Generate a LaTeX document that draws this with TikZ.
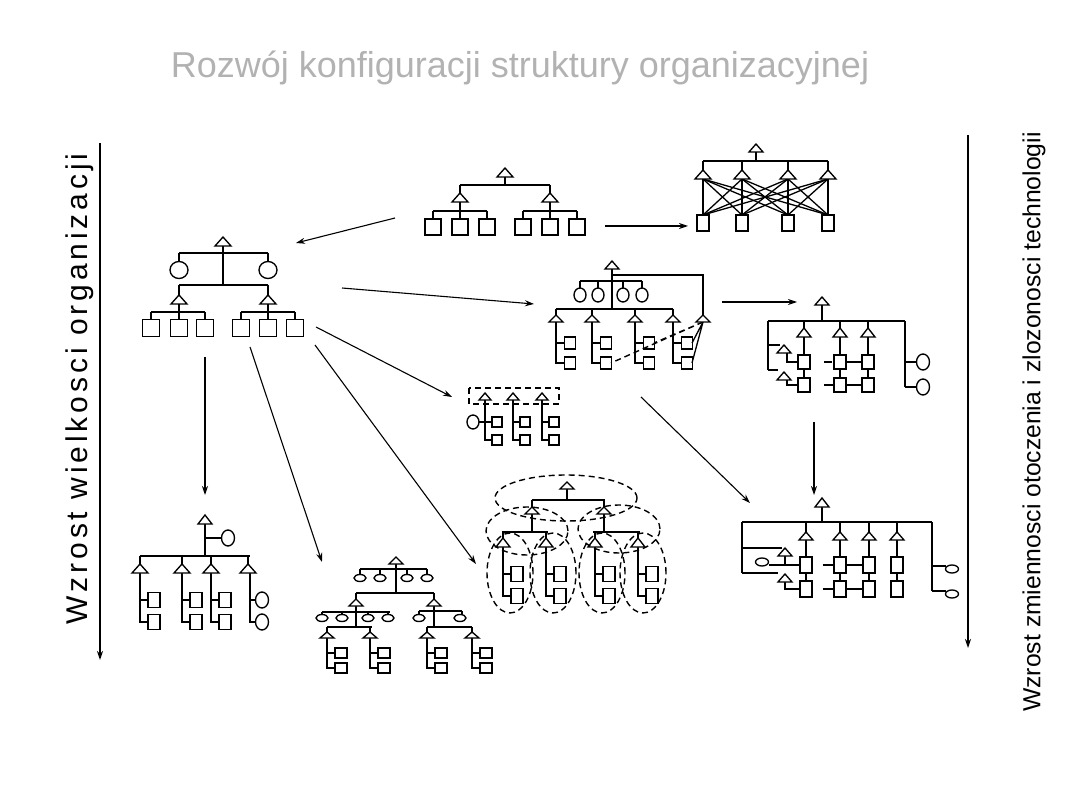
\documentclass[tikz,border=0pt]{standalone}
\usepackage{fontspec}
\setmainfont{Liberation Sans}
\usetikzlibrary{arrows.meta}
\definecolor{titlegray}{RGB}{178,178,178}
\tikzset{
  shp/.style={draw=black, line width=1.35pt, fill=white},
  thk/.style={draw=black, line width=2.3pt},
  thn/.style={draw=black, line width=1.3pt},
  dsh/.style={draw=black, line width=1.4pt, dash pattern=on 6pt off 4pt},
  flow/.style={draw=black, line width=1.1pt, -{Stealth[length=9pt,width=6pt]}},
  axis/.style={draw=black, line width=1.3pt, -{Stealth[length=9pt,width=6pt]}},
}
% triangle: apex x, apex y, half width, height
\newcommand\otri[4]{\draw[shp] (#1-#3,#2+#4) -- (#1,#2) -- (#1+#3,#2+#4) -- cycle;}
% box: centre x, centre y, width, height
\newcommand\obox[4]{\draw[shp] (#1-#3/2,#2-#4/2) rectangle (#1+#3/2,#2+#4/2);}
% oval: centre x, centre y, radii
\newcommand\oell[4]{\draw[shp] (#1,#2) ellipse [x radius=#3pt, y radius=#4pt];}

\begin{document}
\begin{tikzpicture}[x=1pt, y=-1pt]
\useasboundingbox (0,0) rectangle (1080,810);

\node[font=\fontsize{36}{40}\selectfont, text=titlegray] (title) at (520,68) {Rozwój konfiguracji struktury organizacyjnej};
\node[rotate=90, font=\fontsize{30}{32}\selectfont\addfontfeatures{LetterSpace=13}] (size) at (80,389) {Wzrost wielkosci organizacji};
\node[rotate=90, font=\fontsize{24.7}{28}\selectfont] (envi) at (1034,422) {Wzrost zmiennosci otoczenia i zlozonosci technologii};

% functional (top centre)
\draw[thk] (505,177) -- (505,185) (460,185) -- (550,185) (460,185) -- (460,193) (550,185) -- (550,193);
\draw[thk] (460,202) -- (460,211) (550,202) -- (550,211) (433,211) -- (487,211) (523,211) -- (577,211);
\foreach \x in {433,460,487,523,550,577} { \draw[thk] (\x,211) -- (\x,219); \obox{\x}{227}{16}{16} }
\otri{505}{168}{8}{9} \otri{460}{193}{8}{9} \otri{550}{193}{8}{9}

% matrix (top right)
\draw[thk] (756,152) -- (756,161) (703,161) -- (828,161);
\foreach \x in {703,742,788,828} { \draw[thk] (\x,161) -- (\x,170); }
\foreach \x in {703,742,788,828} { \foreach \y in {703,742,788,828} { \draw[thn] (\x,179) -- (\y,215); } }
\foreach \x in {703,742,788,828} { \draw[thk] (\x,179) -- (\x,215); \obox{\x}{223}{12}{16} \otri{\x}{170}{8}{9} }
\otri{756}{144}{7}{8}

% staff (left)
\draw[thn] (223,246) -- (223,285);
\draw[thk] (179,253) -- (268,253) (179,253) -- (179,262) (268,253) -- (268,262);
\draw[thk] (179,285) -- (268,285) (179,285) -- (179,295) (268,285) -- (268,295);
\draw[thk] (179,304) -- (179,312) (268,304) -- (268,312) (151,312) -- (205,312) (241,312) -- (295,312);
\foreach \x in {151,179,205,241,268,295} { \draw[thk] (\x,312) -- (\x,320); \obox{\x}{328}{17}{17} }
\oell{179}{270}{9}{8.5} \oell{268}{270}{9}{8.5}
\otri{223}{237}{8}{9} \otri{179}{295}{8}{9} \otri{268}{295}{8}{9}

% liaison (middle right)
\draw[thk] (612,269) -- (612,309);
\draw[thn] (612,275) -- (703,275) -- (703,315);
\draw[thk] (580,281) -- (642,281) (556,309) -- (673,309);
\foreach \x in {580,598,623,642} { \draw[thn] (\x,281) -- (\x,288); \oell{\x}{295}{6}{7} }
\foreach \x/\w in {556/thn,592/thn,635/thk,673/thn} { \draw[thk] (\x,309) -- (\x,315); \draw[\w] (\x,322) -- (\x,363) -- (\x+9,363) (\x,343) -- (\x+9,343); \obox{\x+14}{343}{11}{12} \obox{\x+14}{363}{11}{12} \otri{\x}{315}{7}{7} }
\draw[dsh] (703,322) -- (654,343) (703,322) -- (611,363);
\draw[thn] (703,322) -- (692,343) (703,322) -- (692,363);
\otri{703}{315}{7}{7} \otri{612}{261}{7}{8}

% project (far right)
\draw[thk] (822,305) -- (822,321) (768,321) -- (905,321) (768,321) -- (768,370);
\foreach \x/\w in {804/thk,840/thk,868/thn} { \draw[thk] (\x,321) -- (\x,328); \draw[\w] (\x,337) -- (\x,355) (\x,369) -- (\x,378); \obox{\x}{362}{12}{14} \obox{\x}{385}{12}{14} \otri{\x}{328}{7}{9} }
\draw[thk] (824,362) -- (832,362) (846,362) -- (862,362) (824,385) -- (834,385) (846,385) -- (862,385);
\draw[thn] (768,345) -- (780,345) (787,353) -- (787,362) -- (798,362) (768,370) -- (778,370) (787,380) -- (787,385) -- (798,385);
\otri{784}{345}{7}{8} \otri{784}{372}{7}{8}
\draw[thn] (905,321) -- (905,387) (905,362) -- (916,362) (905,387) -- (916,387);
\oell{923}{362}{6.5}{8} \oell{923}{387}{6.5}{8}
\otri{822}{297}{7}{8}

% committee (centre)
\draw[dsh] (469,388) rectangle (559,404);
\foreach \x in {485,513,542} { \draw[thk] (\x,400) -- (\x,440) -- (\x+7,440) (\x,422) -- (\x+7,422); \obox{\x+12}{422}{10}{10} \obox{\x+12}{440}{10}{10} \otri{\x}{393}{6}{7} }
\draw[thk] (479,422) -- (485,422);
\oell{473}{422}{6}{7}

% divisional (bottom left)
\draw[thk] (205,524) -- (205,556) (205,538) -- (221,538) (140,556) -- (250,556) (248,556) -- (248,564);
\oell{228}{538}{6.5}{8}
\foreach \x in {140,182,211} { \draw[thk] (\x,556) -- (\x,564) (\x,573) -- (\x,622) -- (\x+8,622) (\x,600) -- (\x+8,600); \obox{\x+14}{600}{12}{15} \obox{\x+14}{622}{12}{15} \otri{\x}{564}{8}{9} }
\draw[thn] (250,573) -- (250,622) -- (255,622) (250,600) -- (255,600);
\oell{262}{600}{6.5}{8} \oell{262}{622}{6.5}{8}
\otri{248}{564}{8}{9} \otri{205}{515}{7}{9}

% multidivisional (bottom centre left)
\draw[thk] (396,564) -- (396,593) (360,569) -- (427,569) (356,593) -- (434,593) (356,593) -- (356,599) (434,593) -- (434,599);
\foreach \x in {360,380,407,427} { \draw[thn] (\x,569) -- (\x,575); \oell{\x}{578}{6}{3.5} }
\draw[thk] (356,606) -- (356,627) (322,612) -- (390,612) (327,627) -- (372,627);
\foreach \x in {322,342,368,388} { \draw[thn] (\x,612) -- (\x,615); \oell{\x}{618}{6}{3.5} }
\draw[thk] (434,606) -- (434,627) (427,627) -- (472,627);
\draw[thn] (419,611) -- (462,611) (419,611) -- (419,615) (462,611) -- (462,615);
\oell{419}{618}{6}{3.5} \oell{460}{618}{6}{3.5}
\foreach \x in {327,370,427,472} { \draw[thk] (\x,627) -- (\x,632) (\x,638) -- (\x,668) -- (\x+8,668) (\x,653) -- (\x+8,653); \obox{\x+14}{653}{12}{10} \obox{\x+14}{668}{12}{10} \otri{\x}{632}{7}{6} }
\otri{356}{599}{7}{7} \otri{434}{599}{7}{7} \otri{396}{557}{7}{7}

% groups (bottom centre)
\draw[thk] (567,489) -- (567,500) (532,500) -- (605,500) (532,500) -- (532,507) (604,500) -- (604,507);
\draw[thn] (532,514) -- (532,532);
\draw[thk] (604,514) -- (604,532) (502,532) -- (548,532) (593,532) -- (640,532);
\foreach \x in {503,546,595,638} { \draw[thk] (\x,532) -- (\x,538) (\x,547) -- (\x,596) -- (\x+9,596) (\x,574) -- (\x+9,574); \obox{\x+14}{574}{12}{15} \obox{\x+14}{596}{12}{15} \otri{\x}{538}{7}{9} }
\otri{532}{507}{7}{7} \otri{604}{507}{7}{7} \otri{567}{482}{7}{7}
\draw[dsh] (566,498) ellipse [x radius=71pt, y radius=23pt];
\draw[dsh] (527,531) ellipse [x radius=41pt, y radius=24pt];
\draw[dsh] (619,529) ellipse [x radius=41pt, y radius=24pt];
\foreach \x in {510,553,602,643} { \draw[dsh] (\x,573) ellipse [x radius=23pt, y radius=40pt]; }

% matrix project (bottom right)
\draw[thk] (822,507) -- (822,522) (742,522) -- (932,522) (742,522) -- (742,573) (742,573) -- (778,573) (932,522) -- (932,591);
\foreach \x/\w in {806/thk,840/thk,869/thn,897/thk} { \draw[thn] (\x,522) -- (\x,532); \draw[\w] (\x,540) -- (\x,557) (\x,573) -- (\x,581); \obox{\x}{565}{12}{16} \obox{\x}{589}{12}{16} \otri{\x}{532}{7}{8} }
\draw[thk] (823,565) -- (834,565) (847,565) -- (863,565) (823,589) -- (834,589) (847,589) -- (863,589);
\draw[thn] (742,548) -- (782,548) (785,556) -- (785,565) (769,565) -- (800,565) (785,582) -- (785,589) -- (800,589);
\otri{785}{548}{7}{8} \otri{785}{574}{7}{8}
\oell{762}{562}{6.5}{4}
\draw[thn] (932,566) -- (946,566) (932,591) -- (946,591);
\oell{952}{569}{6.5}{4} \oell{952}{594}{6.5}{4}
\otri{822}{498}{7}{9}

% arrows
\path (395,218) coordinate (a1s) (296,243) coordinate (a1e)
      (605,226) coordinate (a2s) (688,226) coordinate (a2e)
      (342,288) coordinate (a3s) (534,304) coordinate (a3e)
      (722,302) coordinate (a4s) (797,302) coordinate (a4e)
      (316,327) coordinate (a5s) (452,397) coordinate (a5e)
      (205,357) coordinate (a6s) (205,495) coordinate (a6e)
      (250,347) coordinate (a7s) (322,562) coordinate (a7e)
      (315,345) coordinate (a8s) (476,564) coordinate (a8e)
      (641,397) coordinate (a9s) (750,503) coordinate (a9e)
      (814,422) coordinate (a10s) (814,495) coordinate (a10e)
      (100,143) coordinate (ls) (100,660) coordinate (le)
      (968,135) coordinate (rs) (968,648) coordinate (re);
\foreach \n in {1,...,10} { \draw[flow] (a\n s) -- (a\n e); }
\draw[axis] (ls) -- (le);
\draw[axis] (rs) -- (re);

\end{tikzpicture}
\end{document}
